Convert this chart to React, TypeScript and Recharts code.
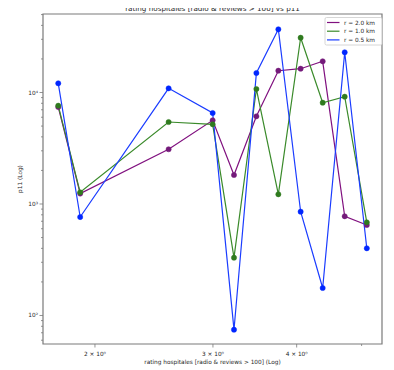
import React from "react";
import { LineChart, Line, XAxis, YAxis, ReferenceArea } from "recharts";

// Rating (x) for each sampled hospital, and p11 per search radius
const ratings = [1.763, 1.901, 2.576, 2.997, 3.225, 3.483, 3.756, 4.055, 4.374, 4.718, 5.09];
const p11Radius20 = [7410, 1240, 3097, 5630, 1820, 6115, 15690, 16350, 19050, 776, 648];
const p11Radius10 = [7613, 1273, 5437, 5186, 330, 10750, 1222, 31000, 8100, 9170, 685];
const p11Radius05 = [12090, 764, 10900, 6550, 74.6, 14960, 36900, 853, 176.5, 22940, 400.7];

const seriesNames = ["r = 2.0 km", "r = 1.0 km", "r = 0.5 km"];

const xTicks = [2, 3, 4, 5];
const xTickLabels: Record<number, string> = { 2: "2 × 10⁰", 3: "3 × 10⁰", 4: "4 × 10⁰" };
const yTicks = [
  60, 70, 80, 90, 100, 200, 300, 400, 500, 600, 700, 800, 900, 1000, 2000, 3000, 4000, 5000,
  6000, 7000, 8000, 9000, 10000, 20000, 30000, 40000, 50000,
];
const yTickLabels: Record<number, string> = { 100: "10²", 1000: "10³", 10000: "10⁴" };

const X_DOMAIN: [number, number] = [1.673, 5.363];
const Y_DOMAIN: [number, number] = [55.5, 50600];

const data = ratings.map((x, i) => ({
  x,
  r20: p11Radius20[i],
  r10: p11Radius10[i],
  r05: p11Radius05[i],
}));

const series = [
  { key: "r20", name: seriesNames[0], line: "#80107f", dot: "#741a7a" },
  { key: "r10", name: seriesNames[1], line: "#3a8a2a", dot: "#2f7a1e" },
  { key: "r05", name: seriesNames[2], line: "#1a3cff", dot: "#0026ff" },
];

const FONT = "'DejaVu Sans', sans-serif";
const TEXT = "#262626";
const SPINE = "#7a7a7a";

// chart box sits at the body's 8px margin
const W = 386;
const H = 362;

const XTick = (props: any) => {
  const { x, y, payload } = props;
  const label = xTickLabels[payload.value];
  const major = label !== undefined;
  return (
    <g>
      <line x1={x} x2={x} y1={y} y2={y + (major ? 3.5 : 2)} stroke={SPINE} strokeWidth={0.8} />
      {major && (
        <text x={x} y={y + 12} textAnchor="middle" fontSize={5.8} fontFamily={FONT} fill={TEXT}>
          {label}
        </text>
      )}
    </g>
  );
};

const YTick = (props: any) => {
  const { x, y, payload } = props;
  const label = yTickLabels[payload.value];
  const major = label !== undefined;
  return (
    <g>
      <line x1={x - (major ? 3.5 : 2)} x2={x} y1={y} y2={y} stroke={SPINE} strokeWidth={0.8} />
      {major && (
        <text x={x - 5} y={y + 2} textAnchor="end" fontSize={5.8} fontFamily={FONT} fill={TEXT}>
          {label}
        </text>
      )}
    </g>
  );
};

export default function App() {
  return (
    <div style={{ position: "relative", width: W, height: H }}>
      <div style={{ position: "absolute", left: 0, top: 0 }}>
        <LineChart width={W} height={H} data={data} margin={{ top: 6, right: 12, left: 0, bottom: 0 }}>
          <XAxis
            dataKey="x"
            type="number"
            scale="log"
            domain={X_DOMAIN}
            allowDataOverflow
            ticks={xTicks}
            tick={<XTick />}
            tickLine={false}
            tickSize={0}
            tickMargin={0}
            axisLine={false}
            height={26}
            interval={0}
          />
          <YAxis
            type="number"
            scale="log"
            domain={Y_DOMAIN}
            allowDataOverflow
            ticks={yTicks}
            tick={<YTick />}
            tickLine={false}
            tickSize={0}
            tickMargin={0}
            axisLine={false}
            width={35}
            interval={0}
          />
          <ReferenceArea
            x1={X_DOMAIN[0]}
            x2={X_DOMAIN[1]}
            y1={Y_DOMAIN[0]}
            y2={Y_DOMAIN[1]}
            fill="none"
            stroke={SPINE}
            strokeWidth={1.2}
            ifOverflow="visible"
          />
          {series.map((s) => (
            <Line
              key={s.key}
              dataKey={s.key}
              name={s.name}
              stroke={s.line}
              strokeWidth={1.2}
              dot={{ r: 2.6, fill: s.dot, stroke: s.dot, strokeWidth: 0.5 }}
              isAnimationActive={false}
            />
          ))}
        </LineChart>
      </div>
      {/* annotation layer in page coordinates */}
      <svg
        width={394}
        height={370}
        style={{ position: "absolute", left: -8, top: -8, pointerEvents: "none" }}
        fontFamily={FONT}
      >
        <text x={212.5} y={11} textAnchor="middle" fontSize={7.2} fill={TEXT}>
          rating hospitales [radio &amp; reviews &gt; 100] vs p11
        </text>
        <text x={212.5} y={364} textAnchor="middle" fontSize={5.8} fill={TEXT}>
          rating hospitales [radio &amp; reviews &gt; 100] (Log)
        </text>
        <text x={22} y={179} textAnchor="middle" fontSize={5.8} fill={TEXT} transform="rotate(-90 22 179)">
          p11 (Log)
        </text>
        <rect x={325} y={17.5} width={57} height={27.5} rx={1.5} fill="#ffffff" fillOpacity={0.85} stroke="#cccccc" strokeWidth={0.8} />
        {series.map((s, i) => (
          <g key={s.key}>
            <line x1={327} x2={339.5} y1={22.5 + i * 8.7} y2={22.5 + i * 8.7} stroke={s.line} strokeWidth={1.2} />
            <text x={344} y={24.5 + i * 8.7} fontSize={5.8} fill={TEXT}>
              {s.name}
            </text>
          </g>
        ))}
      </svg>
    </div>
  );
}
